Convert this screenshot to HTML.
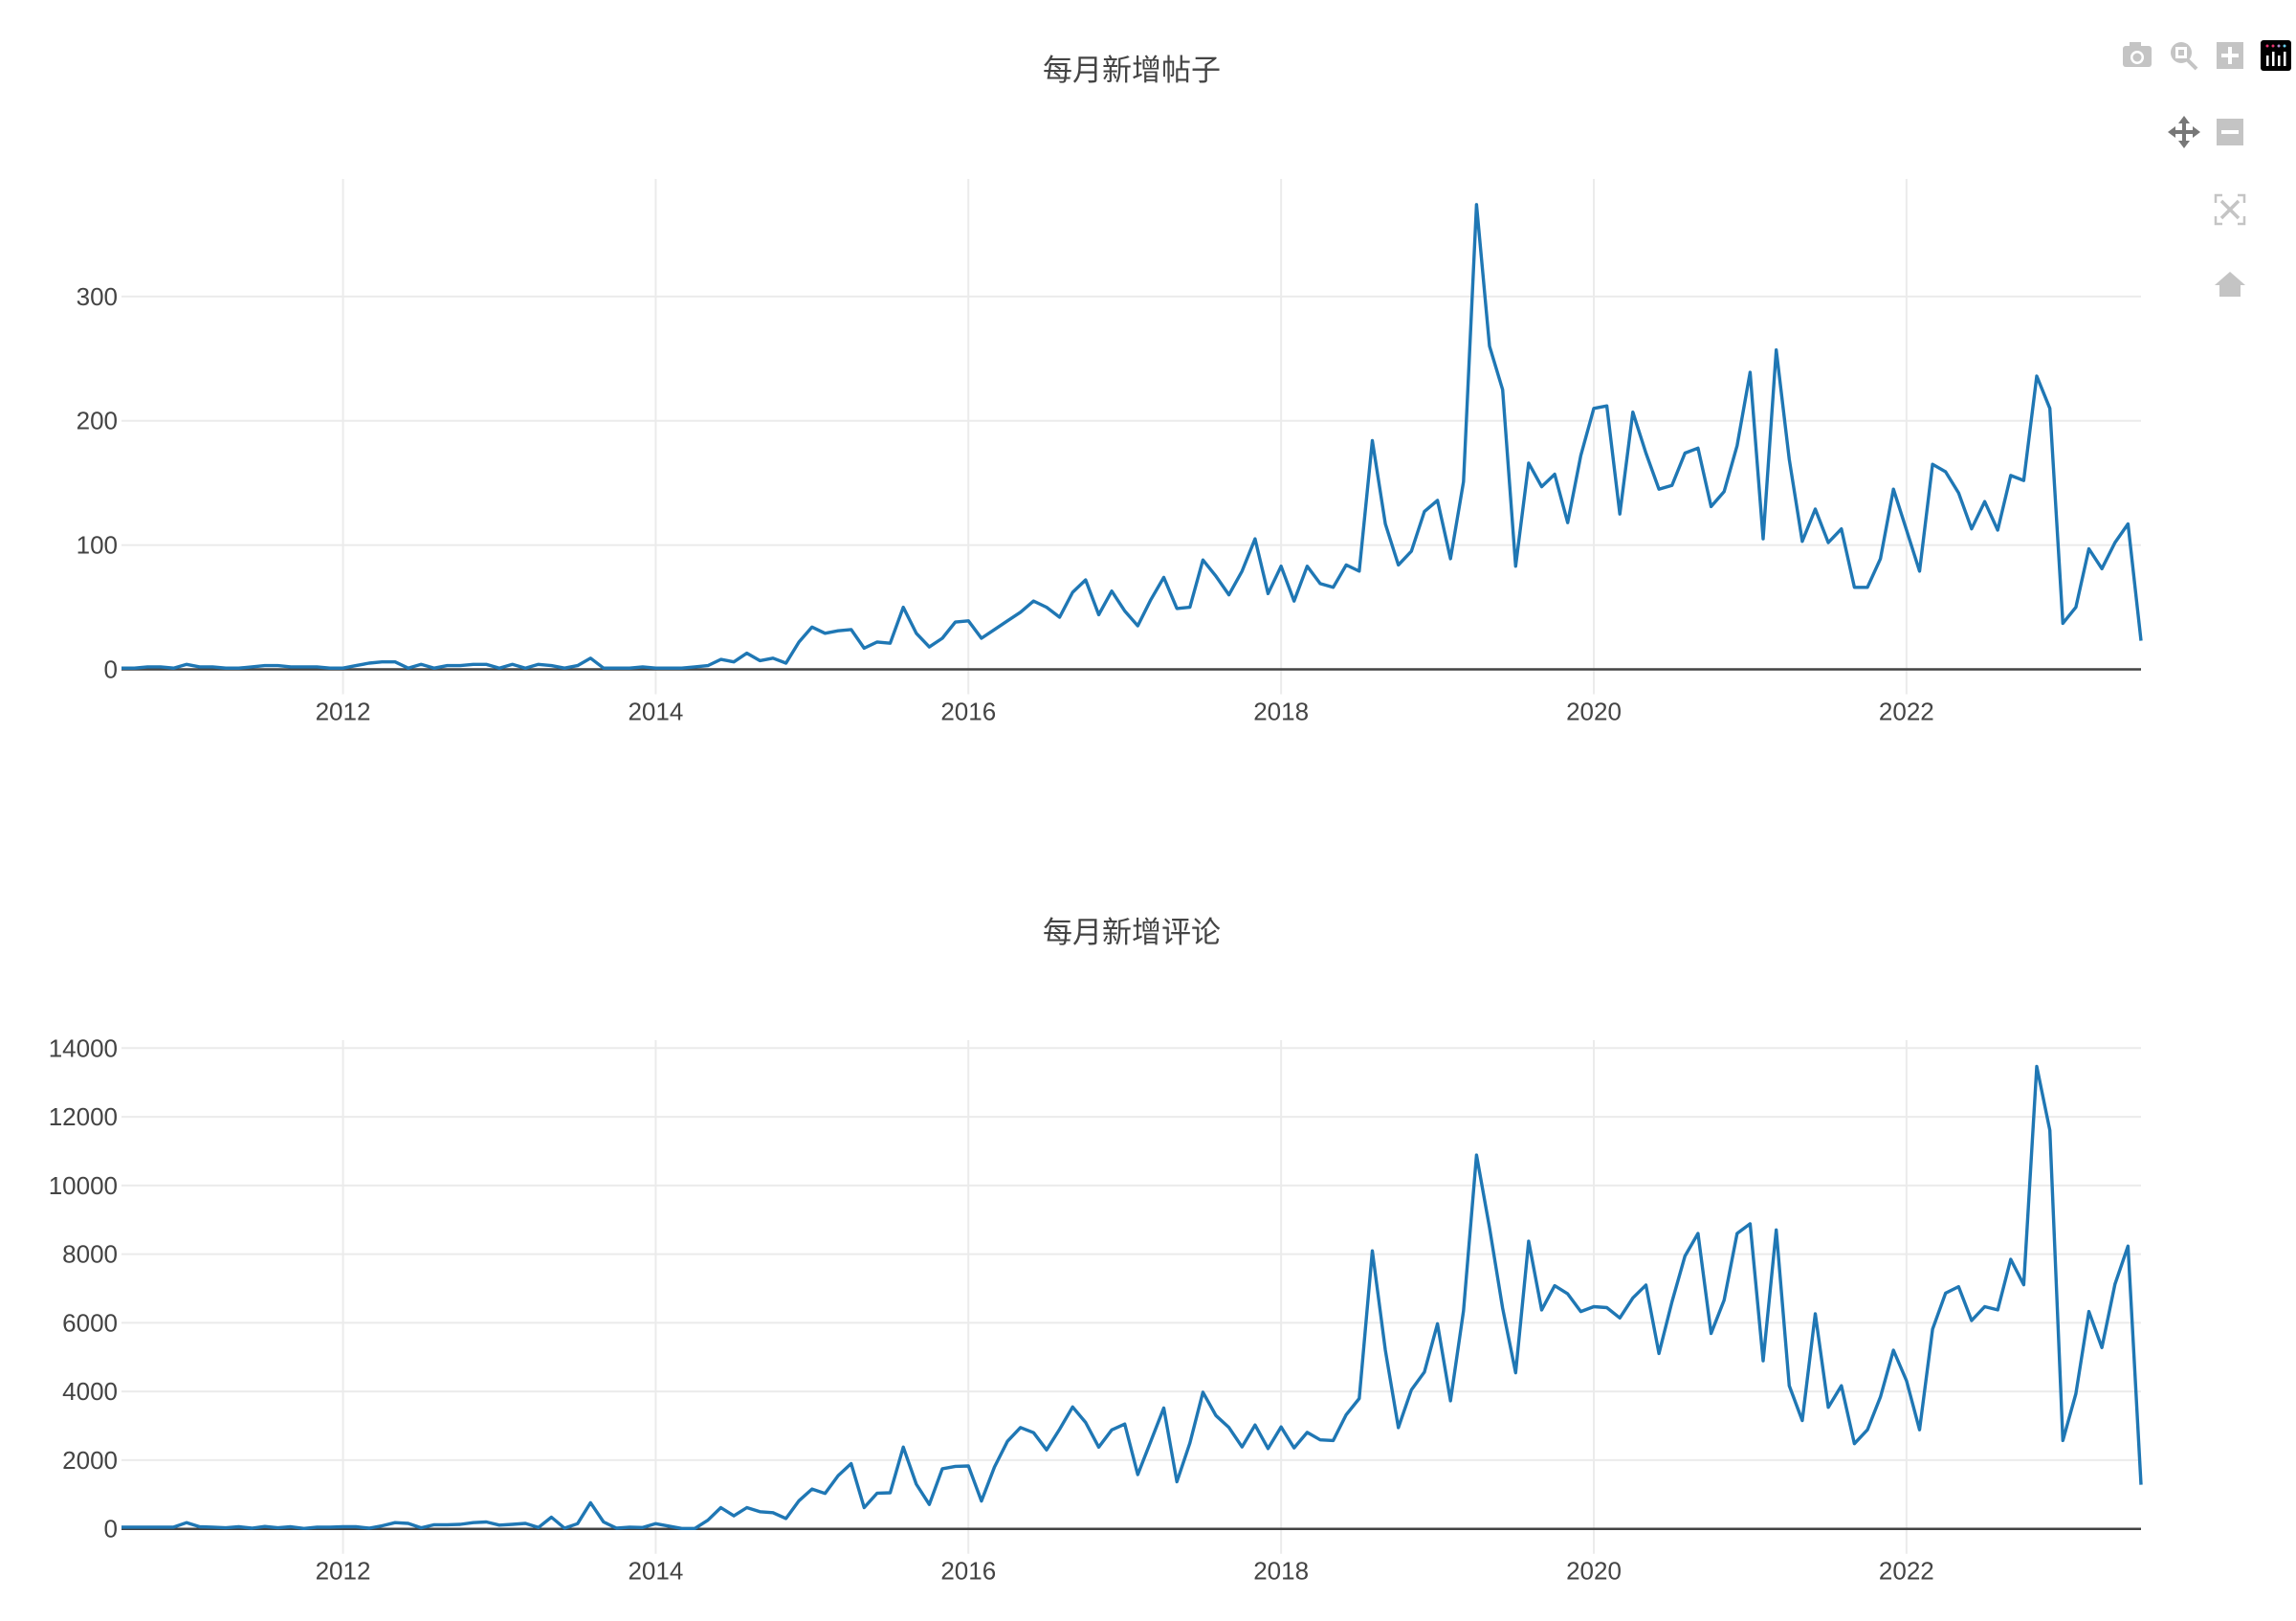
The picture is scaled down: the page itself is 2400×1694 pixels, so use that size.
<!DOCTYPE html>
<html><head><meta charset="utf-8">
<style>
html,body{margin:0;padding:0;background:#fff;}
svg{display:block;font-family:"Liberation Sans","Noto Sans CJK SC",sans-serif;}
</style></head>
<body>
<svg id="chart" width="2400" height="1694" viewBox="0 0 2400 1694" xmlns="http://www.w3.org/2000/svg">
  <text x="1183" y="84" font-size="31" fill="#444" text-anchor="middle">每月新增帖子</text>
  <text x="1183" y="985" font-size="31" fill="#444" text-anchor="middle">每月新增评论</text>
  <g id="top"></g>
  <g id="bottom"></g>
  <g>
    <g fill="#c4c4c4">
      <rect x="2219" y="48" width="30" height="22" rx="3"/><rect x="2226" y="44" width="12" height="6"/>
      <circle cx="2234" cy="60" r="7" fill="#fff"/><circle cx="2234" cy="60" r="4.5"/>
    </g>
    <g>
      <circle cx="2280" cy="55" r="11" fill="#c4c4c4"/><rect x="2274" y="49" width="12" height="12" fill="#fff"/><rect x="2277" y="52" width="6" height="6" fill="#c4c4c4"/>
      <line x1="2287" y1="63" x2="2296" y2="72" stroke="#c4c4c4" stroke-width="4"/>
    </g>
    <g>
      <rect x="2317" y="44" width="28" height="28" fill="#c4c4c4"/><rect x="2322" y="56" width="18" height="4" fill="#fff"/><rect x="2329" y="49" width="4" height="18" fill="#fff"/>
    </g>
    <g>
      <rect x="2363" y="42" width="32" height="32" rx="3" fill="#000"/>
      <circle cx="2370" cy="48" r="1.5" fill="#e8336e"/><circle cx="2376" cy="48" r="1.5" fill="#e8336e"/><circle cx="2382" cy="48" r="1.5" fill="#b190ce"/><circle cx="2388" cy="48" r="1.5" fill="#69d1f0"/>
      <rect x="2369" y="58" width="2.5" height="11" fill="#fff"/><rect x="2375" y="54" width="2.5" height="15" fill="#fff"/><rect x="2381" y="58" width="2.5" height="11" fill="#fff"/><rect x="2387" y="54" width="2.5" height="15" fill="#fff"/>
    </g>
    <g fill="#777">
      <rect x="2281" y="125" width="4" height="26"/><rect x="2270" y="136" width="26" height="4"/>
      <polygon points="2283,121 2277,129 2289,129"/><polygon points="2283,155 2277,147 2289,147"/>
      <polygon points="2266,138 2274,132 2274,144"/><polygon points="2300,138 2292,132 2292,144"/>
    </g>
    <g>
      <rect x="2317" y="124" width="28" height="28" fill="#c4c4c4"/><rect x="2322" y="136" width="18" height="4" fill="#fff"/>
    </g>
    <g stroke="#c4c4c4" stroke-width="2.5" fill="none">
      <path d="M2316 212 v-8 h7 M2339 204 h7 v8 M2346 226 v8 h-7 M2323 234 h-7 v-8"/>
      <path d="M2322 210 L2340 228 M2340 210 L2322 228" stroke-width="3.5"/>
    </g>
    <g fill="#c4c4c4">
      <polygon points="2331,284 2315,298 2320,298 2320,310 2342,310 2342,298 2347,298"/>
    </g>
  </g>
</svg>
<script>
const years = [2012, 2014, 2016, 2018, 2020, 2022];
const postTicks = [0, 100, 200, 300];
const commentTicks = [0, 2000, 4000, 6000, 8000, 10000, 12000, 14000];
const posts = [
 1,1,2,2,1,
 4,2,2,1,1,2,3,3,2,2,2,1,
 1,3,5,6,6,1,4,1,3,3,4,4,
 1,4,1,4,3,1,3,9,1,1,1,2,
 1,1,1,2,3,8,6,13,7,9,5,22,
 34,29,31,32,17,22,21,50,29,18,25,38,
 39,25,32,39,46,55,50,42,62,72,44,63,
 47,35,56,74,49,50,88,75,60,79,105,61,
 83,55,83,69,66,84,79,184,117,84,95,127,
 136,89,151,374,260,225,83,166,147,157,118,172,
 210,212,125,207,174,145,148,174,178,131,143,180,
 239,105,257,169,103,129,102,113,66,66,89,145,
 112,79,165,159,142,113,135,112,156,152,236,210,
 37,50,97,81,102,117,23
];
const comments = [
 50,50,50,50,50,
 180,60,50,30,60,20,70,30,60,10,50,50,
 60,60,20,90,180,160,30,120,120,130,180,200,
 110,130,160,40,340,20,150,760,200,20,50,40,
 150,80,10,10,250,620,380,620,500,470,300,820,
 1160,1030,1550,1900,620,1040,1050,2380,1300,710,1750,1820,
 1830,810,1800,2550,2950,2800,2300,2900,3550,3100,2380,2880,
 3050,1580,2550,3520,1370,2500,3980,3300,2950,2385,3024,2338,
 2967,2357,2808,2592,2573,3324,3794,8094,5202,2948,4047,4564,
 5972,3728,6348,10883,8770,6423,4545,8376,6376,7080,6845,6329,
 6470,6442,6141,6723,7099,5108,6611,7944,8601,5690,6658,8601,
 8883,4892,8705,4169,3155,6263,3540,4169,2479,2883,3841,5202,
 4310,2883,5812,6864,7052,6066,6470,6376,7850,7108,13465,11606,
 2573,3934,6329,5277,7127,8235,1286
];
const NS = "http://www.w3.org/2000/svg";
const X0 = 127, X1 = 2238;
const startYear = 2010, startMonth = 7;
const n = posts.length;
function xScale(t){
  const tStart = startYear + startMonth/12, tEnd = startYear + (startMonth + n - 1)/12;
  return X0 + (t - tStart)/(tEnd - tStart)*(X1 - X0);
}
function xOfIndex(i){ return xScale(startYear + (startMonth + i)/12); }
function mk(tag, attrs, parent){ const e=document.createElementNS(NS,tag); for(const k in attrs) e.setAttribute(k,attrs[k]); parent.appendChild(e); return e; }

function drawChart(g, data, ticks, yTop, yZero, yMax, prefix){
  const yScale = v => yZero - v/yMax*(yZero - yTop);
  years.forEach(yr=>{
    const x = xScale(yr);
    const l = mk('line',{x1:x,x2:x,y1:yTop,y2:yZero+26,stroke:'#ebebeb','stroke-width':2},g);
    
    
    const t = mk('text',{x:x,y:yZero+53,'font-size':26,fill:'#444','text-anchor':'middle'},g);
    t.textContent = yr;
    
    
  });
  ticks.forEach(v=>{
    const y = yScale(v);
    if(v!==0){
      const l = mk('line',{x1:X0,x2:X1,y1:y,y2:y,stroke:'#ebebeb','stroke-width':2},g);
      
      
    }
    const t = mk('text',{x:123,y:y+9,'font-size':26,fill:'#444','text-anchor':'end'},g);
    t.textContent = String(v);
    
    
  });
  const z = mk('line',{x1:X0,x2:X1,y1:yZero,y2:yZero,stroke:'#444','stroke-width':2.5},g);
  
  
  const pts = data.map((v,i)=> xOfIndex(i).toFixed(1)+','+yScale(v).toFixed(1)).join(' ');
  const p = mk('polyline',{points:pts,fill:'none',stroke:'#1f77b4','stroke-width':3.4,'stroke-linejoin':'round'},g);
  
  
}
drawChart(document.getElementById('top'), posts, postTicks, 187, 699.5, 394.6, 'posts');
drawChart(document.getElementById('bottom'), comments, commentTicks, 1087, 1597.7, 14231, 'comments');
</script>
</body></html>
